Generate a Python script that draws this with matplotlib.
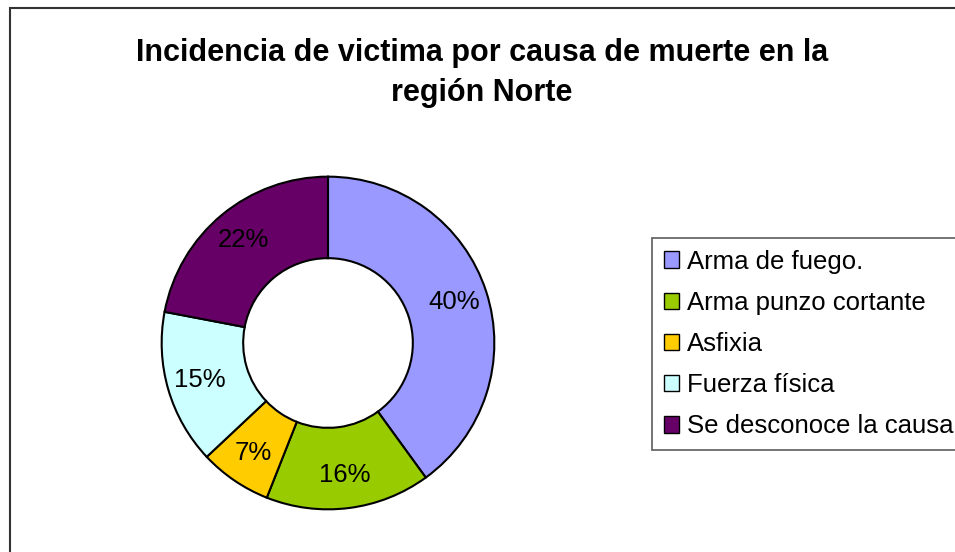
import matplotlib
matplotlib.use("Agg")
import matplotlib.pyplot as plt
from matplotlib.patches import Patch, Rectangle

# -----------------------------
# Data
# -----------------------------

causes = ["Arma de fuego.", "Arma punzo cortante", "Asfixia",
          "Fuerza física", "Se desconoce la causa"]
percent = [40, 16, 7, 15, 22]
colors = ["#9999FF", "#99CC00", "#FFCC00", "#CCFFFF", "#660066"]

title = "Incidencia de victima por causa de muerte en la\nregión Norte"

plt.rcParams["font.family"] = ["Liberation Sans", "DejaVu Sans"]

W, H = 955, 552
fig = plt.figure(figsize=(W / 100, H / 100), dpi=100)

# outer chart border (only left and top visible)
fig.patches.append(Rectangle((10 / W, -0.1), 1.2, 1 - 8 / H + 0.1,
                             transform=fig.transFigure, fill=False,
                             edgecolor="#333333", lw=1.5))

# -----------------------------
# Donut
# -----------------------------

cx, cy, r = 328, 343, 168
ax = fig.add_axes([(cx - r) / W, (H - cy - r) / H, 2 * r / W, 2 * r / H])

wedges, texts, autotexts = ax.pie(
    percent, colors=colors, startangle=90, counterclock=False,
    autopct=lambda p: f"{p:.0f}%", pctdistance=0.8,
    wedgeprops=dict(width=0.49, edgecolor="black", linewidth=1.5),
    textprops=dict(fontsize=18.5, color="black"))

ax.set_xlim(-1.01, 1.01)
ax.set_ylim(-1.01, 1.01)
ax.set_aspect("equal")
ax.axis("off")

# -----------------------------
# Title
# -----------------------------

fig.text(482 / W, 1 - 73 / H, title, ha="center", va="center",
         fontsize=22, fontweight="bold", linespacing=1.45)

# -----------------------------
# Legend
# -----------------------------

handles = [Patch(facecolor=c, edgecolor="black", linewidth=1) for c in colors]

leg = fig.legend(handles, causes, loc="upper left",
                 bbox_to_anchor=(652 / W, 1 - 238 / H),
                 fontsize=18.5, frameon=True, fancybox=False,
                 handlelength=0.6, handleheight=0.6, handletextpad=0.3,
                 labelspacing=0.67, borderpad=0.45, borderaxespad=0)
leg.get_frame().set_edgecolor("#333333")
leg.get_frame().set_linewidth(1.2)

fig.savefig("out.png", dpi=100)
